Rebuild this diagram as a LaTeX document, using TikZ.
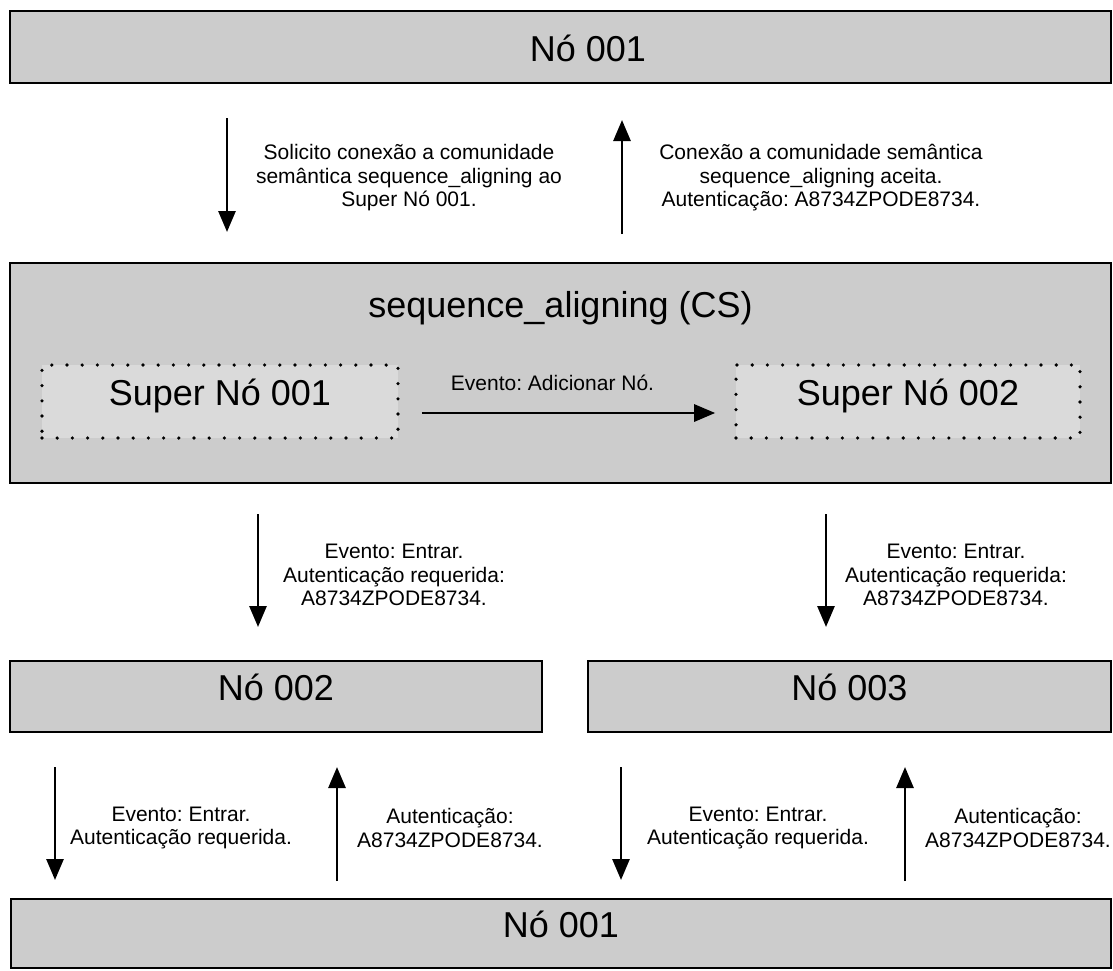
\documentclass[tikz,border=0pt]{standalone}
\usepackage{fontspec}
\setmainfont{Liberation Sans}
\usetikzlibrary{arrows.meta}
\definecolor{boxgray}{RGB}{204,204,204}
\definecolor{innergray}{RGB}{218,218,218}
\frenchspacing
\begin{document}
\begin{tikzpicture}[x=1pt,y=-1pt,
  box/.style={draw=black, line width=2.8pt, fill=boxgray, inner sep=0pt,
    text height=0.74em, text depth=0pt, font=\fontsize{36}{40}\selectfont},
  superbox/.style={draw=black, line width=3.6pt, dash pattern=on 0pt off 15.2pt,
    line cap=round, fill=innergray, inner sep=0pt,
    text height=0.74em, text depth=0pt, font=\fontsize{36}{40}\selectfont},
  title/.style={inner sep=0pt, font=\fontsize{36}{40}\selectfont},
  arr/.style={line width=2.8pt, -{Triangle[length=21pt,width=17pt]}},
  lbl/.style={align=center, inner sep=0pt, font=\fontsize{21}{23.5}\selectfont}]

\useasboundingbox (0,0) rectangle (1113,970);

% main blocks
\node[box, minimum width=1101, minimum height=72] (top) at (560.5,47) {};
\node[title, anchor=base] (toptitle) at (588,61) {Nó 001};
\node[box, minimum width=1101, minimum height=220] (cs) at (560.5,373) {};
\node[title, anchor=base] (cstitle) at (560.5,317) {sequence\_aligning (CS)};
\node[superbox, minimum width=356, minimum height=73] (sn1) at (220,401.5) {Super Nó 001};
\node[superbox, minimum width=344, minimum height=73] (sn2) at (908,401.5) {Super Nó 002};
\node[box, minimum width=532, minimum height=71] (n2) at (276,696.5) {Nó 002};
\node[box, minimum width=523, minimum height=71] (n3) at (849.5,696.5) {Nó 003};
\node[box, minimum width=1100, minimum height=69] (bot) at (561,933.5) {Nó 001};

% arrow end points
\coordinate (a1s) at (227,118);  \coordinate (a1e) at (227,232);
\coordinate (a2s) at (622,234);  \coordinate (a2e) at (622,120);
\coordinate (a3s) at (258,514);  \coordinate (a3e) at (258,627);
\coordinate (a4s) at (826,514);  \coordinate (a4e) at (826,627);
\coordinate (a5s) at (55,767);   \coordinate (a5e) at (55,880);
\coordinate (a6s) at (337,881);  \coordinate (a6e) at (337,767);
\coordinate (a7s) at (621,767);  \coordinate (a7e) at (621,880);
\coordinate (a8s) at (905,881);  \coordinate (a8e) at (905,767);

% connectors
\draw[arr] (a1s) -- (a1e);
\draw[arr] (a2s) -- (a2e);
\draw[arr] ([xshift=22pt,yshift=-11.5pt]sn1.east) -- ([xshift=-19pt,yshift=-11.5pt]sn2.west);
\draw[arr] (a3s) -- (a3e);
\draw[arr] (a4s) -- (a4e);
\draw[arr] (a5s) -- (a5e);
\draw[arr] (a6s) -- (a6e);
\draw[arr] (a7s) -- (a7e);
\draw[arr] (a8s) -- (a8e);

% labels
\node[lbl] (l1) at (409,178) {Solicito conexão a comunidade\\semântica sequence\_aligning ao\\Super Nó 001.};
\node[lbl] (l2) at (821,178) {Conexão a comunidade semântica\\sequence\_aligning aceita.\\Autenticação: A8734ZPODE8734.};
\node[lbl, anchor=base] (l3) at (552.5,390) {Evento: Adicionar Nó.};
\node[lbl] (l4) at (394,575) {Evento: Entrar.\\Autenticação requerida:\\A8734ZPODE8734.};
\node[lbl] (l5) at (956,575) {Evento: Entrar.\\Autenticação requerida:\\A8734ZPODE8734.};
\node[lbl] (l6) at (181,828) {Evento: Entrar.\\Autenticação requerida.};
\node[lbl] (l7) at (450,828) {Autenticação:\\A8734ZPODE8734.};
\node[lbl] (l8) at (758,828) {Evento: Entrar.\\Autenticação requerida.};
\node[lbl] (l9) at (1018,828) {Autenticação:\\A8734ZPODE8734.};
\end{tikzpicture}
\end{document}
